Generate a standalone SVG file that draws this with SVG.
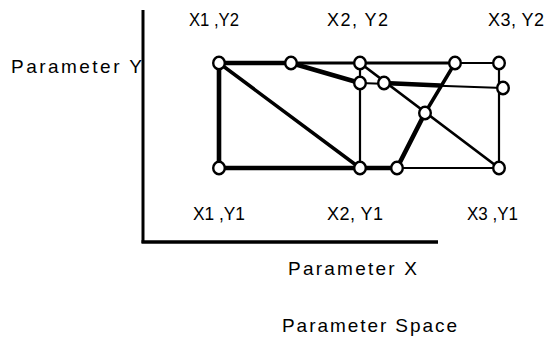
<svg xmlns="http://www.w3.org/2000/svg" width="546" height="338" viewBox="0 0 546 338">
<style>
text{font-family:"Liberation Sans",Arial,Helvetica,sans-serif;fill:#000}
.lab{font-size:18px}
.ax{font-size:19px}
.n{fill:#fff;stroke:#000;stroke-width:2.4}
.e{stroke:#000;fill:none;stroke-linecap:round}
.t1{stroke-width:2.2}
.t2{stroke-width:2.8}
.t3{stroke-width:3.5}
.t4{stroke-width:4.6}
</style>
<rect width="546" height="338" fill="#fff"/>
<g id="axes">
<line x1="143" y1="10" x2="143" y2="243" stroke="#000" stroke-width="3"/>
<line x1="141.5" y1="242" x2="438" y2="242" stroke="#000" stroke-width="3.5"/>
</g>
<g id="connectors">
<line class="e t4" x1="219" y1="63" x2="291" y2="63"/>
<line class="e t2" x1="291" y1="63" x2="360" y2="63"/>
<line class="e t2" x1="360" y1="63" x2="455" y2="63"/>
<line class="e t1" x1="455" y1="63" x2="499" y2="63"/>
<line class="e t4" x1="219" y1="63" x2="219" y2="168"/>
<line class="e t3" x1="219" y1="63" x2="360" y2="168"/>
<line class="e t4" x1="219" y1="168" x2="360" y2="168"/>
<line class="e t4" x1="291" y1="63" x2="360" y2="83"/>
<line class="e t1" x1="360" y1="63" x2="360" y2="168"/>
<line class="e t2" x1="360" y1="63" x2="499" y2="168"/>
<line class="e t1" x1="360" y1="83" x2="503" y2="88"/>
<line class="e t4" x1="384" y1="83" x2="440" y2="85.5"/>
<line class="e t3" x1="455" y1="63" x2="425" y2="113"/>
<line class="e t4" x1="425" y1="113" x2="397" y2="168"/>
<line class="e t4" x1="360" y1="168" x2="397" y2="168"/>
<line class="e t1" x1="397" y1="168" x2="499" y2="168"/>
<line class="e t1" x1="499" y1="63" x2="499" y2="168"/>
</g>
<g id="nodeA"><ellipse class="n" cx="219" cy="63" rx="5.8" ry="6.2"/></g>
<g id="nodeB"><ellipse class="n" cx="291" cy="63" rx="5.8" ry="6.2"/></g>
<g id="nodeC"><ellipse class="n" cx="360" cy="63" rx="5.8" ry="6.2"/></g>
<g id="nodeD"><ellipse class="n" cx="360" cy="83" rx="5.8" ry="6.2"/></g>
<g id="nodeG"><ellipse class="n" cx="384" cy="83" rx="5.8" ry="6.2"/></g>
<g id="nodeH"><ellipse class="n" cx="455" cy="63" rx="5.8" ry="6.2"/></g>
<g id="nodeI"><ellipse class="n" cx="499" cy="63" rx="5.8" ry="6.2"/></g>
<g id="nodeJ"><ellipse class="n" cx="503" cy="88" rx="5.8" ry="6.2"/></g>
<g id="nodeK"><ellipse class="n" cx="425" cy="113" rx="5.8" ry="6.2"/></g>
<g id="nodeE"><ellipse class="n" cx="219" cy="168" rx="5.8" ry="6.2"/></g>
<g id="nodeF"><ellipse class="n" cx="360" cy="168" rx="5.8" ry="6.2"/></g>
<g id="nodeL"><ellipse class="n" cx="397" cy="168" rx="5.8" ry="6.2"/></g>
<g id="nodeM"><ellipse class="n" cx="499" cy="168" rx="5.8" ry="6.2"/></g>
<g id="labels">
<text class="lab" x="189" y="26" textLength="50" lengthAdjust="spacingAndGlyphs">X1 ,Y2</text>
<text class="lab" x="327" y="26" textLength="61" lengthAdjust="spacing">X2, Y2</text>
<text class="lab" x="488" y="26" textLength="56" lengthAdjust="spacing">X3, Y2</text>
<text class="ax" x="11" y="73" textLength="131" lengthAdjust="spacing">Parameter Y</text>
<text class="lab" x="193" y="220" textLength="52" lengthAdjust="spacingAndGlyphs">X1 ,Y1</text>
<text class="lab" x="327" y="220" textLength="56" lengthAdjust="spacing">X2, Y1</text>
<text class="lab" x="467" y="220" textLength="51" lengthAdjust="spacingAndGlyphs">X3 ,Y1</text>
<text class="ax" x="288" y="275" textLength="129" lengthAdjust="spacing">Parameter X</text>
<text class="ax" x="282" y="332" textLength="175" lengthAdjust="spacing">Parameter Space</text>
</g>
</svg>
